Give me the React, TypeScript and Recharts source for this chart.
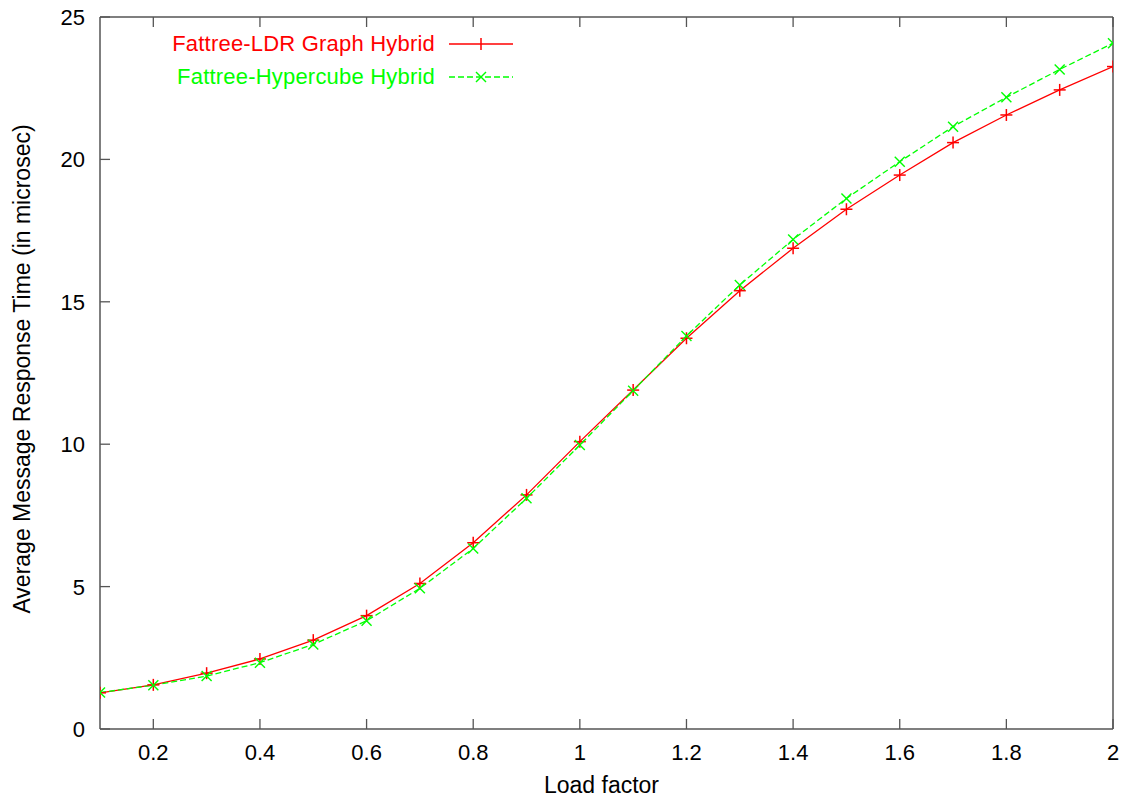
import React from 'react';
import { LineChart, Line, XAxis, YAxis, Legend } from 'recharts';

const loadFactors = [0.1, 0.2, 0.3, 0.4, 0.5, 0.6, 0.7, 0.8, 0.9, 1.0, 1.1, 1.2, 1.3, 1.4, 1.5, 1.6, 1.7, 1.8, 1.9, 2.0];
const ldrHybrid = [1.27, 1.55, 1.96, 2.46, 3.12, 3.98, 5.11, 6.54, 8.22, 10.09, 11.9, 13.72, 15.39, 16.88, 18.25, 19.45, 20.59, 21.56, 22.44, 23.26];
const hypercubeHybrid = [1.28, 1.54, 1.86, 2.33, 2.97, 3.8, 4.94, 6.34, 8.1, 9.97, 11.88, 13.8, 15.59, 17.19, 18.63, 19.92, 21.15, 22.18, 23.16, 24.08];
const xTicks = [0.2, 0.4, 0.6, 0.8, 1.0, 1.2, 1.4, 1.6, 1.8, 2.0];
const yTicks = [0, 5, 10, 15, 20, 25];
const seriesNames = ['Fattree-LDR Graph Hybrid', 'Fattree-Hypercube Hybrid'];
const xLabel = 'Load factor';
const yLabel = 'Average Message Response Time (in microsec)';

const data = loadFactors.map((x, i) => ({ x, ldr: ldrHybrid[i], hyp: hypercubeHybrid[i] }));

const FONT = '"Liberation Sans", Arial, sans-serif';
const FS = 22;
const LFS = 23;
const AXIS = '#555555';
const RED = '#ff0000';
const GREEN = '#00ff00';

const BottomTick = (props: any) => {
  const { x, y, payload } = props;
  return (
    <g>
      <line x1={x} y1={y} x2={x} y2={y - 10} stroke={AXIS} strokeWidth={1.3} />
      <text x={x} y={y + 31} textAnchor="middle" fontFamily={FONT} fontSize={FS} fill="#000">
        {String(payload.value)}
      </text>
    </g>
  );
};

const TopTick = (props: any) => {
  const { x, y } = props;
  return <line x1={x} y1={y} x2={x} y2={y + 10} stroke={AXIS} strokeWidth={1.3} />;
};

const LeftTick = (props: any) => {
  const { x, y, payload } = props;
  return (
    <g>
      <line x1={x} y1={y} x2={x + 10} y2={y} stroke={AXIS} strokeWidth={1.3} />
      <text x={x - 15} y={y + 8} textAnchor="end" fontFamily={FONT} fontSize={FS} fill="#000">
        {String(payload.value)}
      </text>
    </g>
  );
};

const RightTick = (props: any) => {
  const { x, y } = props;
  return <line x1={x} y1={y} x2={x - 10} y2={y} stroke={AXIS} strokeWidth={1.3} />;
};

const PlusDot = (props: any) => {
  const { cx, cy, index } = props;
  if (cx == null || cy == null) return <g key={`p${index}`} />;
  return (
    <g key={`p${index}`}>
      <line x1={cx - 6} y1={cy} x2={cx + 6} y2={cy} stroke={RED} strokeWidth={1.5} />
      <line x1={cx} y1={cy - 6} x2={cx} y2={cy + 6} stroke={RED} strokeWidth={1.5} />
    </g>
  );
};

const CrossDot = (props: any) => {
  const { cx, cy, index } = props;
  if (cx == null || cy == null) return <g key={`c${index}`} />;
  return (
    <g key={`c${index}`}>
      <line x1={cx - 5} y1={cy - 5} x2={cx + 5} y2={cy + 5} stroke={GREEN} strokeWidth={1.4} />
      <line x1={cx - 5} y1={cy + 5} x2={cx + 5} y2={cy - 5} stroke={GREEN} strokeWidth={1.4} />
    </g>
  );
};

const LegendContent = () => {
  const rows = [
    { name: seriesNames[0], color: RED, dash: undefined as string | undefined, marker: 'plus' },
    { name: seriesNames[1], color: GREEN, dash: '6 3', marker: 'cross' },
  ];
  return (
    <div style={{ fontFamily: FONT, fontSize: FS, letterSpacing: 0.2 }}>
      {rows.map((r) => (
        <div key={r.name} style={{ display: 'flex', alignItems: 'center', height: 33 }}>
          <span style={{ width: 285, textAlign: 'right', color: r.color, whiteSpace: 'nowrap' }}>{r.name}</span>
          <svg width={66} height={20} style={{ marginLeft: 14, display: 'block' }}>
            <line x1={0} y1={10} x2={64} y2={10} stroke={r.color} strokeWidth={1.3} strokeDasharray={r.dash} />
            {r.marker === 'plus' ? (
              <g>
                <line x1={32} y1={4} x2={32} y2={16} stroke={r.color} strokeWidth={1.5} />
              </g>
            ) : (
              <g>
                <line x1={27} y1={5} x2={37} y2={15} stroke={r.color} strokeWidth={1.4} />
                <line x1={27} y1={15} x2={37} y2={5} stroke={r.color} strokeWidth={1.4} />
              </g>
            )}
          </svg>
        </div>
      ))}
    </div>
  );
};

const YLabel = (props: any) => {
  const vb = props.viewBox || {};
  const cy = (vb.y ?? 17) + (vb.height ?? 712) / 2 - 4;
  const cx = 22;
  return (
    <text x={cx} y={cy} transform={`rotate(-90, ${cx}, ${cy})`} textAnchor="middle" dominantBaseline="central" fontFamily={FONT} fontSize={LFS} fill="#000">
      {yLabel}
    </text>
  );
};

const XLabel = (props: any) => {
  const vb = props.viewBox || {};
  const cx = (vb.x ?? 100) + (vb.width ?? 1013) / 2 - 5;
  return (
    <text x={cx} y={793} textAnchor="middle" fontFamily={FONT} fontSize={LFS} fill="#000">
      {xLabel}
    </text>
  );
};

export default function App() {
  return (
    <div style={{ position: 'absolute', left: 0, top: 0, width: 1126, height: 797, background: '#fff' }}>
      <LineChart width={1126} height={797} data={data} margin={{ top: 16, right: 12, left: 0, bottom: 0 }}>
        <XAxis
          xAxisId="bottom"
          dataKey="x"
          type="number"
          domain={[0.1, 2]}
          ticks={xTicks}
          allowDataOverflow
          height={68}
          tickSize={0}
          tickMargin={0}
          tickLine={false}
          axisLine={{ stroke: AXIS, strokeWidth: 1.5 }}
          tick={<BottomTick />}
          interval={0}
          label={<XLabel />}
        />
        <XAxis
          xAxisId="top"
          orientation="top"
          dataKey="x"
          type="number"
          domain={[0.1, 2]}
          ticks={xTicks}
          allowDataOverflow
          height={1}
          tickSize={0}
          tickMargin={0}
          tickLine={false}
          axisLine={{ stroke: AXIS, strokeWidth: 1.5 }}
          tick={<TopTick />}
          interval={0}
        />
        <YAxis
          yAxisId="left"
          type="number"
          domain={[0, 25]}
          ticks={yTicks}
          width={100}
          tickSize={0}
          tickMargin={0}
          tickLine={false}
          axisLine={{ stroke: AXIS, strokeWidth: 1.5 }}
          tick={<LeftTick />}
          interval={0}
          label={<YLabel />}
        />
        <YAxis
          yAxisId="right"
          orientation="right"
          type="number"
          domain={[0, 25]}
          ticks={yTicks}
          width={1}
          tickSize={0}
          tickMargin={0}
          tickLine={false}
          axisLine={{ stroke: AXIS, strokeWidth: 1.5 }}
          tick={<RightTick />}
          interval={0}
        />
        <Legend
          layout="vertical"
          align="center"
          verticalAlign="middle"
          content={<LegendContent />}
          wrapperStyle={{ left: 150, top: 27, width: 380, height: 66 }}
        />
        <Line
          xAxisId="bottom"
          yAxisId="left"
          type="linear"
          dataKey="ldr"
          name={seriesNames[0]}
          stroke={RED}
          strokeWidth={1.3}
          dot={PlusDot}
          activeDot={false}
          isAnimationActive={false}
        />
        <Line
          xAxisId="bottom"
          yAxisId="left"
          type="linear"
          dataKey="hyp"
          name={seriesNames[1]}
          stroke={GREEN}
          strokeWidth={1.3}
          strokeDasharray="6 3"
          dot={CrossDot}
          activeDot={false}
          isAnimationActive={false}
        />
      </LineChart>
    </div>
  );
}
